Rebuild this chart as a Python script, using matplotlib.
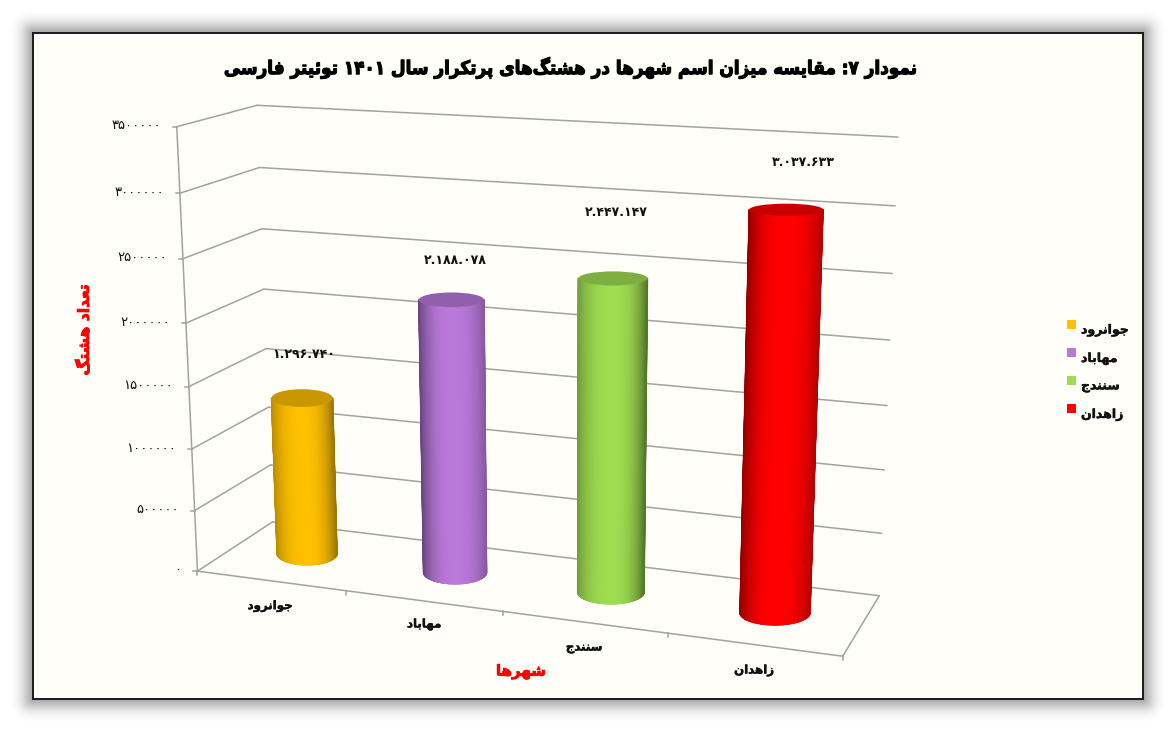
import re
import numpy as np
import matplotlib
matplotlib.use("Agg")
import matplotlib.pyplot as plt
from matplotlib.patches import Rectangle, Ellipse, FancyBboxPatch
from matplotlib.colors import LinearSegmentedColormap
import matplotlib.patheffects as pe

# ---- data ----
cities = ["جوانرود", "مهاباد", "سنندج", "زاهدان"]
counts = [1296740, 2188078, 2447147, 3037633]
colors = ["#FFC000", "#B978DA", "#9EDC50", "#FF0000"]
y_ticks = [0, 500000, 1000000, 1500000, 2000000, 2500000, 3000000, 3500000]
title = "نمودار ۷: مقایسه میزان اسم شهرها در هشتگ‌های پرتکرار سال ۱۴۰۱ توئیتر فارسی"
x_title = "شهرها"
y_title = "تعداد هشتگ"

# ---- Persian text shaping ----
F = {
 'ا':(0xFE8D,0xFE8E,None,None),'د':(0xFEA9,0xFEAA,None,None),'ر':(0xFEAD,0xFEAE,None,None),
 'ز':(0xFEAF,0xFEB0,None,None),'و':(0xFEED,0xFEEE,None,None),
 'ب':(0xFE8F,0xFE90,0xFE91,0xFE92),'پ':(0xFB56,0xFB57,0xFB58,0xFB59),'ت':(0xFE95,0xFE96,0xFE97,0xFE98),
 'ج':(0xFE9D,0xFE9E,0xFE9F,0xFEA0),'س':(0xFEB1,0xFEB2,0xFEB3,0xFEB4),'ش':(0xFEB5,0xFEB6,0xFEB7,0xFEB8),
 'ع':(0xFEC9,0xFECA,0xFECB,0xFECC),
 'ف':(0xFED1,0xFED2,0xFED3,0xFED4),'ق':(0xFED5,0xFED6,0xFED7,0xFED8),'ک':(0xFB8E,0xFB8F,0xFB90,0xFB91),
 'گ':(0xFB92,0xFB93,0xFB94,0xFB95),'ل':(0xFEDD,0xFEDE,0xFEDF,0xFEE0),'م':(0xFEE1,0xFEE2,0xFEE3,0xFEE4),
 'ن':(0xFEE5,0xFEE6,0xFEE7,0xFEE8),'ه':(0xFEE9,0xFEEA,0xFEEB,0xFEEC),'ی':(0xFBFC,0xFBFD,0xFBFE,0xFBFF),
 'ئ':(0xFE89,0xFE8A,0xFE8B,0xFE8C),
}
def shape(s):
    out = []
    for i, c in enumerate(s):
        if c not in F:
            out.append(c); continue
        prev = s[i-1] if i else ''
        nxt = s[i+1] if i+1 < len(s) else ''
        jp = prev in F and F[prev][2] is not None
        jn = nxt in F and F[c][2] is not None
        idx = 3 if jp and jn else 1 if jp else 2 if jn else 0
        out.append(chr(F[c][idx]))
    vis = ''.join(out).replace('\u200c', '')[::-1]
    return re.sub('[۰-۹]+', lambda m: m.group(0)[::-1], vis)

def fa_digits(s):
    return s.translate(str.maketrans('0123456789', '۰۱۲۳۴۵۶۷۸۹'))

def heavy(w, col):
    return [pe.withStroke(linewidth=w, foreground=col)]

# ---- figure ----
W, H = 1176, 733
fig = plt.figure(figsize=(W/100, H/100), dpi=100, facecolor='white')
ax = fig.add_axes([0, 0, 1, 1])
ax.set_xlim(0, W); ax.set_ylim(H, 0); ax.axis('off'); ax.autoscale(False)

# frame with soft shadow
L, T, R, B = 33, 33, 1143, 699
NS = 23
for k in range(NS, 0, -1):
    a = 0.003 + 0.032*(1-k/NS)**1.2
    ax.add_patch(FancyBboxPatch((L-k*0.2, T-k*0.2), R-L+0.4*k, B-T+0.4*k,
                                boxstyle=f"round,pad={k*0.8},rounding_size={k}",
                                fc='black', ec='none', alpha=a, zorder=1))
ax.add_patch(Rectangle((L, T), R-L, B-T, fc='#FFFEF9', ec='#1a1a1a', lw=1.4, zorder=2))

# ---- 3-D box projection: (category, depth, value) -> pixels ----
n = len(cities)
vmax = y_ticks[-1]
anchors = [((0,0,0),(197,571)), ((n,0,0),(843,656)), ((0,1,0),(273,522)), ((n,1,0),(879,596)),
           ((0,0,vmax),(177,127)), ((0,1,vmax),(257,105)), ((n,1,vmax),(898,137))]
A, b = [], []
for (x, d, v), (u, w) in anchors:
    v = v/vmax
    A.append([x,d,v,1,0,0,0,0,-u*x,-u*d,-u*v]); b.append(u)
    A.append([0,0,0,0,x,d,v,1,-w*x,-w*d,-w*v]); b.append(w)
p = np.linalg.lstsq(np.array(A, float), np.array(b, float), rcond=None)[0]
P = np.append(p, 1).reshape(3, 4)
def proj(x, d, v):
    h = P @ np.array([x, d, v/vmax, 1.0])
    return h[0]/h[2], h[1]/h[2]
def seg(a, b, **kw):
    pa, pb = proj(*a), proj(*b)
    ax.plot([pa[0], pb[0]], [pa[1], pb[1]], solid_capstyle='round', **kw)

GRID = dict(color='#A5A29C', lw=1.1, zorder=3)
for t in y_ticks:
    seg((0,0,t), (0,1,t), **GRID)
    seg((0,1,t), (n,1,t), **GRID)
    u, w = proj(0,0,t)
    ax.plot([u-4, u], [w, w], **GRID)
    ax.text(u-16, w-1, fa_digits(str(t)), ha='right', va='center', fontsize=9.5, color='#111', zorder=6)
seg((0,0,0), (0,0,vmax), **GRID)
seg((0,0,0), (n,0,0), **GRID)
seg((n,0,0), (n,1,0), **GRID)
for i in range(n+1):
    u, w = proj(i,0,0)
    ax.plot([u, u], [w, w+4], **GRID)

# ---- cylinders ----
RADIUS = 0.208
DEPTH = 0.52
SHIFT = -2
edge_left = [0.74, 0.58, 0.72, 0.58]
edge_right = [0.62, 0.74, 0.54, 0.72]
def ry_at(y):
    return 6 + (y-211)*6/390
for i, (val, col) in enumerate(zip(counts, colors)):
    rgb = np.array(matplotlib.colors.to_rgb(col))
    x0 = i+0.5
    cb = proj(x0, DEPTH, 0); ct = proj(x0, DEPTH, val)
    rb = (proj(x0+RADIUS, DEPTH, 0)[0]-proj(x0-RADIUS, DEPTH, 0)[0])/2
    rt = (proj(x0+RADIUS, DEPTH, val)[0]-proj(x0-RADIUS, DEPTH, val)[0])/2
    cbx, cby = cb[0]+SHIFT, cb[1]
    ctx, cty = ct[0]+SHIFT, ct[1]
    ryb, ryt = ry_at(cby), ry_at(cty)
    th = np.linspace(np.pi, 0, 61)
    c = np.cos(th)
    s = np.linspace(0, 1, 60)[:, None]
    X = (1-s)*(cbx+rb*c) + s*(ctx+rt*c)
    Y = (1-s)*(cby+ryb*np.sin(th)) + s*(cty+ryt*np.sin(th))
    shade1 = 1-(1-np.where(c > 0, edge_right[i], edge_left[i]))*np.abs(c)**2.6
    shade = np.tile(shade1, (len(s), 1))
    cmap = LinearSegmentedColormap.from_list('c%d' % i, ['black', col])
    ax.pcolormesh(X, Y, shade, shading='gouraud', cmap=cmap, vmin=0, vmax=1, zorder=4)
    # anti-aliased silhouette over the mesh edges
    ax.plot(X[:, 0], Y[:, 0], color=rgb*edge_left[i], lw=1.0, zorder=4.5)
    ax.plot(X[:, -1], Y[:, -1], color=rgb*edge_right[i], lw=1.0, zorder=4.5)
    for j in range(0, len(th)-1, 2):
        ax.plot(X[0, j:j+3], Y[0, j:j+3], color=rgb*shade1[j+1], lw=0.8, zorder=4.5)
    ax.add_patch(Ellipse((ctx, cty), 2*rt, 2*ryt, fc=rgb*0.79, ec='none', zorder=5))

# ---- labels ----
label_xy = [(304, 354), (455, 260), (616, 213), (803, 163)]
for val, (u, w) in zip(counts, label_xy):
    ax.text(u, w, fa_digits(f"{val:,}".replace(',', '.')), ha='center', va='center',
            fontsize=9, fontweight='bold', color='#111', zorder=6)
cat_xy = [(270, 606), (424, 624), (584, 647), (754, 670)]
for name, (u, w) in zip(cities, cat_xy):
    ax.text(u, w, shape(name), ha='center', va='center', fontsize=8.5, fontweight='bold', color='#111', zorder=6,
            path_effects=heavy(0.3, '#111'))

ax.text(571, 68, shape(title), ha='center', va='center', fontsize=13.5, fontweight='bold', stretch='condensed',
        color='black', zorder=6, path_effects=heavy(0.8, 'black'))
ax.text(521, 672, shape(x_title), ha='center', va='center', fontsize=10.8, fontweight='bold', color='#FF0000',
        zorder=6, path_effects=heavy(0.6, '#FF0000'))
ax.text(84, 330, shape(y_title), ha='center', va='center', rotation=90, fontsize=11.2, fontweight='bold',
        color='#FF0000', zorder=6, path_effects=heavy(0.6, '#FF0000'))

# legend
leg_y = [324, 352.5, 380.5, 408.5]
for name, col, w in zip(cities, colors, leg_y):
    ax.add_patch(Rectangle((1067, w-4.5), 9, 9, fc=col, ec='none', zorder=6))
    ax.text(1081, w+6, shape(name), ha='left', va='center', fontsize=9, fontweight='bold', color='#111', zorder=6,
            path_effects=heavy(0.3, '#111'))

fig.savefig('out.png', dpi=100, facecolor='white')
